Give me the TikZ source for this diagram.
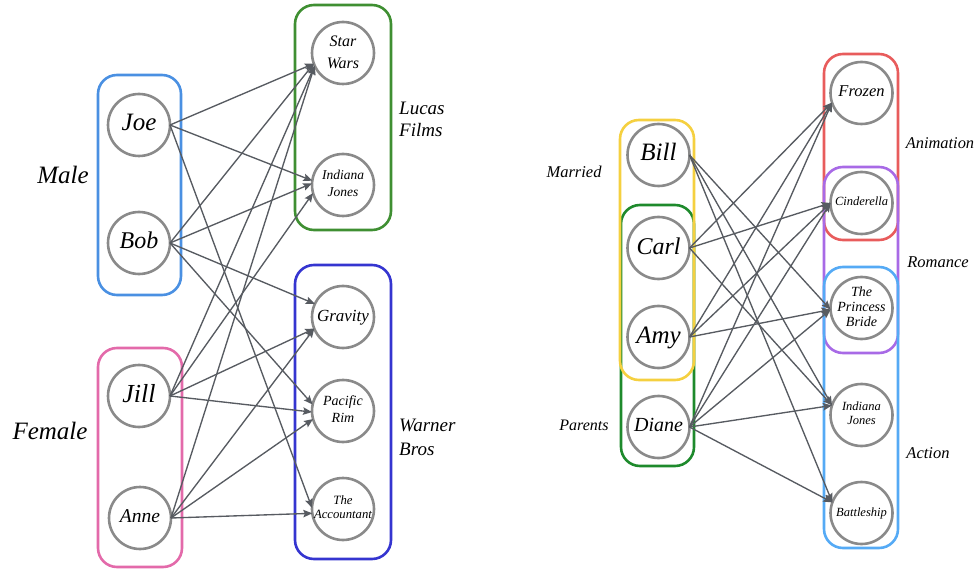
\documentclass[tikz,border=0pt]{standalone}
\usepackage{fontspec}
\setmainfont{Liberation Serif}
\usetikzlibrary{arrows.meta}
\definecolor{cgray}{HTML}{8A8A8A}
\definecolor{egray}{HTML}{575B61}
\definecolor{cMale}{HTML}{4A90E2}
\definecolor{cFemale}{HTML}{E36AAA}
\definecolor{cLucas}{HTML}{3F8F32}
\definecolor{cWarner}{HTML}{3535D0}
\definecolor{cMarried}{HTML}{F5D040}
\definecolor{cParents}{HTML}{1E8A2C}
\definecolor{cAnim}{HTML}{E85C5C}
\definecolor{cRom}{HTML}{A86AE6}
\definecolor{cAct}{HTML}{55AAF5}
\newcommand{\ctxt}[1]{\makebox[0pt]{\begin{tabular}{@{}c@{}}#1\end{tabular}}}
\newcommand{\ltxt}[1]{\begin{tabular}{@{}l@{}}#1\end{tabular}}
\begin{document}
\begin{tikzpicture}[x=1pt,y=-1pt,
 person/.style={circle, draw=cgray, line width=2.6pt, minimum size=62pt, inner sep=0pt, outer sep=0pt},
 grp/.style={rectangle, rounded corners=19pt, line width=2.6pt, inner sep=0pt, outer sep=0pt},
 lbl/.style={inner sep=0pt},
 edge/.style={draw=egray, line width=1.35pt, -{Stealth[length=9pt,width=7.5pt,inset=1.5pt]}},
]
\useasboundingbox (0,0) rectangle (974,569);

% ---------- group boxes ----------
\node[grp, draw=cMale, minimum width=83pt, minimum height=220pt] (male) at (139.5,185) {};
\node[grp, draw=cFemale, minimum width=84pt, minimum height=219pt] (female) at (140,457.5) {};
\node[grp, draw=cLucas, minimum width=96pt, minimum height=225pt] (lucas) at (343,117.5) {};
\node[grp, draw=cWarner, minimum width=96pt, minimum height=294pt] (warner) at (343,412) {};

\node[grp, draw=cParents, minimum width=73pt, minimum height=261pt] (parents) at (657.5,335.5) {};
\node[grp, draw=cMarried, minimum width=74pt, minimum height=260pt] (married) at (657,250) {};
\node[grp, draw=cAnim, minimum width=74pt, minimum height=186pt] (anim) at (861,147) {};
\node[grp, draw=cRom, minimum width=74pt, minimum height=186pt] (rom) at (861,260) {};
\node[grp, draw=cAct, minimum width=74pt, minimum height=281pt] (act) at (861,407.5) {};

% ---------- group labels ----------
\node[lbl, font=\fontsize{25}{30}\selectfont\itshape] (malelbl) at (63,175) {Male};
\node[lbl, font=\fontsize{25}{30}\selectfont\itshape] (femalelbl) at (50,431) {Female};
\node[lbl, anchor=west, font=\fontsize{19}{22.5}\selectfont\itshape] (lucaslbl) at (399,121) {\ltxt{Lucas\\Films}};
\node[lbl, anchor=west, font=\fontsize{19}{24}\selectfont\itshape] (warnerlbl) at (399,439) {\ltxt{Warner\\Bros}};
\node[lbl, font=\fontsize{16.5}{20}\selectfont\itshape] (marriedlbl) at (574,172) {Married};
\node[lbl, font=\fontsize{16}{20}\selectfont\itshape] (parentslbl) at (584,425) {Parents};
\node[lbl, font=\fontsize{16.4}{20}\selectfont\itshape] (animlbl) at (940,143) {Animation};
\node[lbl, font=\fontsize{16.5}{20}\selectfont\itshape] (romlbl) at (938,262) {Romance};
\node[lbl, font=\fontsize{16.5}{20}\selectfont\itshape] (actlbl) at (928,453) {Action};

% ---------- left graph nodes ----------
\node[person, font=\fontsize{25}{30}\selectfont\itshape] (joe) at (139,125) {\ctxt{Joe}};
\node[person, font=\fontsize{24}{30}\selectfont\itshape] (bob) at (139,243) {\ctxt{Bob}};
\node[person, font=\fontsize{26}{30}\selectfont\itshape] (jill) at (139,396) {\ctxt{Jill}};
\node[person, font=\fontsize{19.5}{24}\selectfont\itshape] (anne) at (140,518) {\ctxt{Anne}};

\node[person, font=\fontsize{16}{22}\selectfont\itshape] (sw) at (343,53) {\ctxt{Star\\Wars}};
\node[person, font=\fontsize{13.5}{17}\selectfont\itshape] (ija) at (343,185) {\ctxt{Indiana\\Jones}};
\node[person, font=\fontsize{17}{20}\selectfont\itshape] (grav) at (343,317) {\ctxt{Gravity}};
\node[person, font=\fontsize{14}{17}\selectfont\itshape] (pr) at (343,411) {\ctxt{Pacific\\Rim}};
\node[person, font=\fontsize{12.7}{14}\selectfont\itshape] (acc) at (343,509) {\ctxt{The\\Accountant}};

% ---------- right graph nodes ----------
\node[person, font=\fontsize{25}{30}\selectfont\itshape] (bill) at (658.5,155) {\ctxt{Bill}};
\node[person, font=\fontsize{24}{30}\selectfont\itshape] (carl) at (658.5,248) {\ctxt{Carl}};
\node[person, font=\fontsize{25}{30}\selectfont\itshape] (amy) at (658.5,337) {\ctxt{Amy}};
\node[person, font=\fontsize{20}{24}\selectfont\itshape] (diane) at (658.5,427) {\ctxt{Diane}};

\node[person, font=\fontsize{16.5}{20}\selectfont\itshape] (frz) at (861.5,93) {\ctxt{Frozen}};
\node[person, font=\fontsize{12.5}{15}\selectfont\itshape] (cin) at (861.5,203) {\ctxt{Cinderella}};
\node[person, font=\fontsize{14}{15}\selectfont\itshape] (pb) at (861.5,308) {\ctxt{The\\Princess\\Bride}};
\node[person, font=\fontsize{12.5}{13.5}\selectfont\itshape] (ijb) at (861.5,415) {\ctxt{Indiana\\Jones}};
\node[person, font=\fontsize{12.5}{15}\selectfont\itshape] (bs) at (861.5,513) {\ctxt{Battleship}};

% ---------- left edges ----------
\draw[edge] (joe.east) -- (sw.200);
\draw[edge] (joe.east) -- (ija.172);
\draw[edge] (joe.east) -- (acc.178);
\draw[edge] (bob.east) -- (sw.200);
\draw[edge] (bob.east) -- (ija.177);
\draw[edge] (bob.east) -- (grav.155);
\draw[edge] (bob.east) -- (pr.168);
\draw[edge] (jill.east) -- (sw.204);
\draw[edge] (jill.east) -- (ija.195);
\draw[edge] (jill.east) -- (grav.202);
\draw[edge] (jill.east) -- (pr.182);
\draw[edge] (anne.east) -- (sw.204);
\draw[edge] (anne.east) -- (grav.202);
\draw[edge] (anne.east) -- (pr.195);
\draw[edge] (anne.east) -- (acc.188);

% ---------- right edges ----------
\draw[edge] (bill.east) -- (pb.183);
\draw[edge] (bill.east) -- (ijb.162);
\draw[edge] (bill.east) -- (bs.160);
\draw[edge] (carl.east) -- (frz.198);
\draw[edge] (carl.east) -- (cin.180);
\draw[edge] (carl.east) -- (ijb.162);
\draw[edge] (amy.east) -- (frz.198);
\draw[edge] (amy.east) -- (cin.180);
\draw[edge] (amy.east) -- (pb.183);
\draw[edge] (diane.east) -- (frz.198);
\draw[edge] (diane.east) -- (cin.180);
\draw[edge] (diane.east) -- (pb.183);
\draw[edge] (diane.east) -- (ijb.162);
\draw[edge] (diane.east) -- (bs.160);
\end{tikzpicture}
\end{document}
